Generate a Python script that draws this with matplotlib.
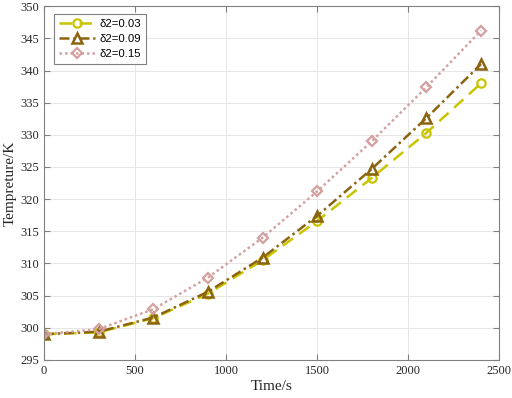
import matplotlib
matplotlib.use("Agg")
import matplotlib.pyplot as plt

time_s = [0, 300, 600, 900, 1200, 1500, 1800, 2100, 2400]
temp_003 = [299.0, 299.3, 301.5, 305.3, 310.5, 316.6, 323.3, 330.3, 338.0]
temp_009 = [299.0, 299.4, 301.6, 305.6, 310.9, 317.4, 324.7, 332.6, 341.0]
temp_015 = [299.0, 299.8, 302.9, 307.8, 314.0, 321.2, 329.0, 337.4, 346.2]
labels = ["δ2=0.03", "δ2=0.09", "δ2=0.15"]

fig = plt.figure(figsize=(5.12, 3.98), dpi=100)
ax = fig.add_axes([0.086, 0.0955, 0.889, 0.889])

ax.plot(time_s, temp_003, color="#c8c400", ls=(0, (5, 3)), lw=1.8, marker="o",
        ms=6, mfc="none", mew=1.6, label=labels[0])
ax.plot(time_s, temp_009, color="#8c6410", ls=(0, (4, 1.5, 1, 1.5)), lw=1.8, marker="^",
        ms=7, mfc="none", mew=1.8, label=labels[1])
ax.plot(time_s, temp_015, color="#d4a0a0", ls=(0, (1, 1.2)), lw=1.8, marker="D",
        ms=5.2, mfc="none", mew=1.6, label=labels[2])

ax.set_xlim(0, 2500)
ax.set_ylim(295, 350)
ax.set_xticks(range(0, 2501, 500))
ax.set_yticks(range(295, 351, 5))
ax.grid(True, color="#e6e6e6", lw=0.7)
ax.set_axisbelow(True)
for s in ax.spines.values():
    s.set_color("#808080")
    s.set_linewidth(0.8)
ax.tick_params(direction="in", top=True, right=True, length=4, color="#808080",
               labelsize=9, labelcolor="#262626")
for t in ax.get_xticklabels() + ax.get_yticklabels():
    t.set_family("Liberation Serif")
ax.set_xlabel("Time/s", family="Liberation Serif", fontsize=11, color="#262626", labelpad=2)
ax.set_ylabel("Tempreture/K", family="Liberation Serif", fontsize=11, color="#262626", labelpad=3)

leg = ax.legend(loc="upper left", prop={"family": "Liberation Sans", "size": 8.2},
                fancybox=False, edgecolor="#808080", framealpha=1,
                handlelength=3.2, handletextpad=0.4, borderpad=0.4, labelspacing=0.45,
                borderaxespad=0, bbox_to_anchor=(0.022, 0.977))
leg.get_frame().set_linewidth(0.8)

fig.savefig("out.png", dpi=100)
